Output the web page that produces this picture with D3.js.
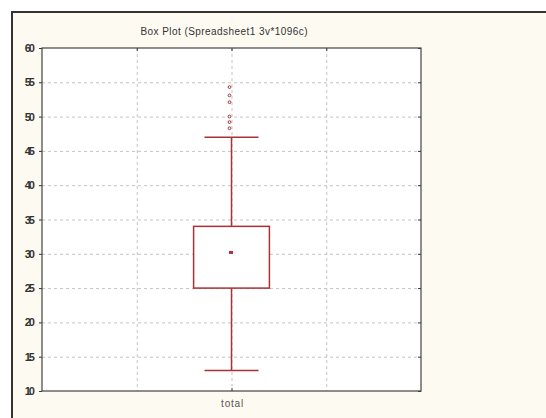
<!DOCTYPE html>
<html><head><meta charset="utf-8">
<script src="https://cdn.jsdelivr.net/npm/d3@7"></script>
<style>html,body{margin:0;padding:0;background:#fff;}svg{display:block;}</style>
</head><body>
<svg id="c" width="546" height="418"></svg>
<script>
const categories = ["total"];
const whiskerLow = [13];
const q1 = [25];
const median = [30.2];
const q3 = [34];
const whiskerHigh = [47];
const outliers = [[48.3, 49.2, 50, 52.1, 53.1, 54.3]];
const yTicks = [10, 15, 20, 25, 30, 35, 40, 45, 50, 55, 60];
const title = "Box Plot (Spreadsheet1 3v*1096c)";

const svg = d3.select("#c");
const W = 546, H = 418;
const m = {l: 42, r: 421, t: 48, b: 391};
const red = "#A83236";
const font = "Liberation Sans, Arial, sans-serif";

// outer frame
svg.append("rect").attr("x", 12).attr("y", 12).attr("width", W).attr("height", H)
  .attr("fill", "#FDFAF2").attr("stroke", "#333").attr("stroke-width", 2);

const y = d3.scaleLinear().domain([10, 60]).range([m.b, m.t]);
const x = d3.scaleLinear().domain([-2, 2]).range([m.l, m.r]);
const catX = i => x(i);

// plot area
svg.append("rect").attr("x", m.l).attr("y", m.t).attr("width", m.r - m.l).attr("height", m.b - m.t)
  .attr("fill", "#fff");

// grid
svg.append("g").selectAll("line").data(yTicks.filter(d => d > 10 && d < 60)).join("line")
  .attr("x1", m.l).attr("x2", m.r).attr("y1", d => y(d) + 0.5).attr("y2", d => y(d) + 0.5)
  .attr("stroke", "#c4c4c4").attr("stroke-dasharray", "3,3");
svg.append("g").selectAll("line").data([-1, 0, 1]).join("line")
  .attr("y1", m.t).attr("y2", m.b).attr("x1", d => x(d) + 0.5).attr("x2", d => x(d) + 0.5)
  .attr("stroke", "#c4c4c4").attr("stroke-dasharray", "3,3");

// axes
const yAxisL = d3.axisLeft(y).tickValues(yTicks).tickSize(3).tickPadding(6);
const gL = svg.append("g").attr("transform", `translate(${m.l},0)`).call(yAxisL);
gL.select(".domain").remove();
gL.selectAll("line").attr("stroke", "#333");
gL.selectAll("text").attr("font-family", font)
  .attr("font-size", 11).attr("fill", "#333").attr("font-weight", "bold").attr("letter-spacing", "-2");

const gR = svg.append("g").attr("transform", `translate(${m.r},0)`)
  .call(d3.axisLeft(y).tickValues(yTicks).tickSize(3).tickFormat(""));
gR.select(".domain").remove();
gR.selectAll("line").attr("stroke", "#333");

const gT = svg.append("g").attr("transform", `translate(0,${m.t})`)
  .call(d3.axisBottom(x).tickValues([-1, 0, 1]).tickSize(3).tickFormat(""));
gT.select(".domain").remove();
gT.selectAll("line").attr("stroke", "#333");

const gB = svg.append("g").attr("transform", `translate(0,${m.b})`)
  .call(d3.axisTop(x).tickValues(categories.map((c, i) => i)).tickSize(3).tickFormat(""));
gB.select(".domain").remove();
gB.selectAll("line").attr("stroke", "#333");

svg.append("rect").attr("x", m.l).attr("y", m.t).attr("width", m.r - m.l).attr("height", m.b - m.t)
  .attr("fill", "none").attr("stroke", "#444").attr("stroke-width", 1.2);

// category label
svg.append("g").selectAll("text").data(categories).join("text")
  .attr("x", (d, i) => catX(i) + 1).attr("y", m.b + 16).attr("text-anchor", "middle")
  .attr("font-family", font).attr("font-size", 10).attr("letter-spacing", "0.8")
  .attr("fill", "#555").text(d => d);

// title
svg.append("text").attr("x", 224).attr("y", 35).attr("text-anchor", "middle")
  .attr("font-family", font).attr("font-size", 10)
  .attr("textLength", 167).attr("lengthAdjust", "spacing")
  .attr("fill", "#333").text(title);

// boxes
const bw = 0.4, cw = 0.285;
const g = svg.append("g");
categories.forEach((c, i) => {
  const cx = catX(i);
  g.append("line").attr("x1", cx).attr("x2", cx).attr("y1", y(whiskerLow[i])).attr("y2", y(q1[i]))
    .attr("stroke", red).attr("stroke-width", 1.5);
  g.append("line").attr("x1", cx).attr("x2", cx).attr("y1", y(q3[i])).attr("y2", y(whiskerHigh[i]))
    .attr("stroke", red).attr("stroke-width", 1.5);
  [whiskerLow[i], whiskerHigh[i]].forEach(v => {
    g.append("line").attr("x1", x(i - cw)).attr("x2", x(i + cw)).attr("y1", y(v)).attr("y2", y(v))
      .attr("stroke", red).attr("stroke-width", 1.5);
  });
  g.append("rect").attr("x", x(i - bw)).attr("y", y(q3[i])).attr("width", x(i + bw) - x(i - bw))
    .attr("height", y(q1[i]) - y(q3[i])).attr("fill", "#fff").attr("stroke", red).attr("stroke-width", 1.5);
  g.append("rect").attr("x", cx - 2.5).attr("y", y(median[i]) - 1.5).attr("width", 4).attr("height", 3)
    .attr("fill", red);
  g.selectAll(null).data(outliers[i]).join("circle")
    .attr("cx", cx - 2).attr("cy", d => y(d)).attr("r", 1.4)
    .attr("fill", "#fff").attr("stroke", red).attr("stroke-width", 1);
});
</script>
</body></html>
